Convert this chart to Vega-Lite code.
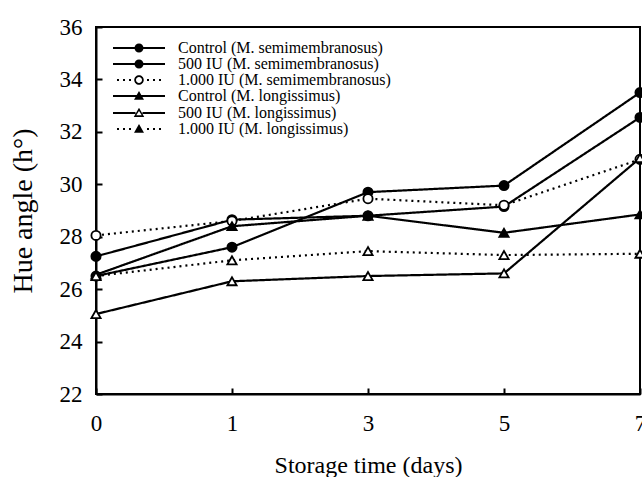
{
  "$schema": "https://vega.github.io/schema/vega-lite/v6.json",
  "width": 544,
  "height": 367,
  "autosize": {"type": "none"},
  "padding": {"left": 96, "top": 27, "right": 2, "bottom": 83},
  "background": "white",
  "config": {
    "font": "Liberation Serif",
    "view": {"stroke": "black", "strokeWidth": 2},
    "axis": {
      "domainColor": "black", "domainWidth": 2, "tickColor": "black", "tickWidth": 2, "tickSize": -6,
      "labelColor": "black", "labelFont": "Liberation Serif", "labelFontSize": 23,
      "titleFont": "Liberation Serif", "titleFontSize": 24, "titleFontWeight": "normal", "titleColor": "black",
      "grid": false
    }
  },
  "data": {
    "values": [
      {"series": "Control (M. semimembranosus)", "day": 0, "value": 26.5},
      {"series": "Control (M. semimembranosus)", "day": 1, "value": 27.6},
      {"series": "Control (M. semimembranosus)", "day": 3, "value": 29.7},
      {"series": "Control (M. semimembranosus)", "day": 5, "value": 29.95},
      {"series": "Control (M. semimembranosus)", "day": 7, "value": 33.5},
      {"series": "500 IU (M. semimembranosus)", "day": 0, "value": 27.25},
      {"series": "500 IU (M. semimembranosus)", "day": 1, "value": 28.65},
      {"series": "500 IU (M. semimembranosus)", "day": 3, "value": 28.8},
      {"series": "500 IU (M. semimembranosus)", "day": 5, "value": 29.15},
      {"series": "500 IU (M. semimembranosus)", "day": 7, "value": 32.55},
      {"series": "1.000 IU (M. semimembranosus)", "day": 0, "value": 28.05},
      {"series": "1.000 IU (M. semimembranosus)", "day": 1, "value": 28.6},
      {"series": "1.000 IU (M. semimembranosus)", "day": 3, "value": 29.45},
      {"series": "1.000 IU (M. semimembranosus)", "day": 5, "value": 29.2},
      {"series": "1.000 IU (M. semimembranosus)", "day": 7, "value": 30.95},
      {"series": "Control (M. longissimus)", "day": 0, "value": 26.55},
      {"series": "Control (M. longissimus)", "day": 1, "value": 28.4},
      {"series": "Control (M. longissimus)", "day": 3, "value": 28.8},
      {"series": "Control (M. longissimus)", "day": 5, "value": 28.15},
      {"series": "Control (M. longissimus)", "day": 7, "value": 28.85},
      {"series": "500 IU (M. longissimus)", "day": 0, "value": 25.05},
      {"series": "500 IU (M. longissimus)", "day": 1, "value": 26.3},
      {"series": "500 IU (M. longissimus)", "day": 3, "value": 26.5},
      {"series": "500 IU (M. longissimus)", "day": 5, "value": 26.6},
      {"series": "500 IU (M. longissimus)", "day": 7, "value": 31.0},
      {"series": "1.000 IU (M. longissimus)", "day": 0, "value": 26.5},
      {"series": "1.000 IU (M. longissimus)", "day": 1, "value": 27.1},
      {"series": "1.000 IU (M. longissimus)", "day": 3, "value": 27.45},
      {"series": "1.000 IU (M. longissimus)", "day": 5, "value": 27.3},
      {"series": "1.000 IU (M. longissimus)", "day": 7, "value": 27.35}
    ]
  },
  "encoding": {
    "x": {
      "field": "day", "type": "ordinal",
      "scale": {"type": "point", "padding": 0},
      "axis": {"labelAngle": 0, "title": "Storage time (days)", "labelPadding": 24, "titlePadding": 18}
    },
    "y": {
      "field": "value", "type": "quantitative",
      "scale": {"domain": [22, 36], "nice": false, "zero": false},
      "axis": {"values": [22, 24, 26, 28, 30, 32, 34, 36], "title": "Hue angle (h°)", "titleFontSize": 28, "labelPadding": 20, "titlePadding": 22}
    }
  },
  "resolve": {"scale": {"shape": "independent", "fill": "independent"}},
  "layer": [
    {
      "mark": {"type": "line", "strokeWidth": 2.2, "color": "black"},
      "encoding": {
        "detail": {"field": "series", "type": "nominal"},
        "strokeDash": {
          "field": "series", "type": "nominal",
          "scale": {
            "domain": ["Control (M. semimembranosus)", "500 IU (M. semimembranosus)", "1.000 IU (M. semimembranosus)", "Control (M. longissimus)", "500 IU (M. longissimus)", "1.000 IU (M. longissimus)"],
            "range": [[1, 0], [1, 0], [2, 4], [1, 0], [1, 0], [2, 4]]
          },
          "legend": null
        }
      }
    },
    {
      "transform": [{"filter": {"field": "series", "oneOf": ["Control (M. semimembranosus)", "500 IU (M. semimembranosus)"]}}],
      "mark": {"type": "point", "shape": "circle", "filled": true, "size": 85, "fill": "black", "stroke": "black", "strokeWidth": 1.8, "opacity": 1}
    },
    {
      "transform": [{"filter": {"field": "series", "oneOf": ["1.000 IU (M. semimembranosus)"]}}],
      "mark": {"type": "point", "shape": "circle", "filled": true, "size": 85, "fill": "white", "stroke": "black", "strokeWidth": 1.8, "opacity": 1}
    },
    {
      "transform": [{"filter": {"field": "series", "oneOf": ["Control (M. longissimus)"]}}],
      "mark": {"type": "point", "shape": "triangle-up", "filled": true, "size": 85, "fill": "black", "stroke": "black", "strokeWidth": 1.8, "opacity": 1}
    },
    {
      "transform": [{"filter": {"field": "series", "oneOf": ["500 IU (M. longissimus)", "1.000 IU (M. longissimus)"]}}],
      "mark": {"type": "point", "shape": "triangle-up", "filled": true, "size": 85, "fill": "white", "stroke": "black", "strokeWidth": 1.8, "opacity": 1}
    },
    {
      "mark": {"type": "point", "filled": true, "size": 100, "color": "black", "opacity": 0},
      "encoding": {
        "shape": {
          "field": "series", "type": "nominal",
          "scale": {
            "domain": ["Control (M. semimembranosus)", "500 IU (M. semimembranosus)", "1.000 IU (M. semimembranosus)", "Control (M. longissimus)", "500 IU (M. longissimus)", "1.000 IU (M. longissimus)"],
            "range": [
              "M-10.6,-0.22H-0.2V0.22H-10.6ZM-4.5,0A0.9,0.9 0 1,1 -6.3,0A0.9,0.9 0 1,1 -4.5,0Z",
              "M-10.6,-0.22H-0.2V0.22H-10.6ZM-4.5,0A0.9,0.9 0 1,1 -6.3,0A0.9,0.9 0 1,1 -4.5,0Z",
              "M-9.8,-0.2H-9.4V0.2H-9.8ZM-8.6,-0.2H-8.2V0.2H-8.6ZM-7.4,-0.2H-7V0.2H-7.4ZM-3.8,-0.2H-3.4V0.2H-3.8ZM-2.6,-0.2H-2.2V0.2H-2.6ZM-1.4,-0.2H-1V0.2H-1.4ZM-4.45,0A0.95,0.95 0 1,1 -6.35,0A0.95,0.95 0 1,1 -4.45,0ZM-4.8,0A0.6,0.6 0 1,0 -6,0A0.6,0.6 0 1,0 -4.8,0Z",
              "M-10.6,-0.22H-0.2V0.22H-10.6ZM-5.4,-1L-4.4,0.75L-6.4,0.75Z",
              "M-10.6,-0.22H-6.1V0.22H-10.6ZM-4.7,-0.22H-0.2V0.22H-4.7ZM-5.4,-1.05L-4.35,0.78L-6.45,0.78ZM-5.4,-0.4L-5.95,0.45L-4.85,0.45Z",
              "M-9.8,-0.2H-9.4V0.2H-9.8ZM-8.6,-0.2H-8.2V0.2H-8.6ZM-7.4,-0.2H-7V0.2H-7.4ZM-3.8,-0.2H-3.4V0.2H-3.8ZM-2.6,-0.2H-2.2V0.2H-2.6ZM-1.4,-0.2H-1V0.2H-1.4ZM-5.4,-1L-4.4,0.75L-6.4,0.75Z"
            ]
          },
          "legend": {
            "orient": "none", "legendX": 62, "legendY": 13, "title": null,
            "symbolSize": 100, "labelFontSize": 16, "labelFont": "Liberation Serif", "labelColor": "black",
            "labelOffset": 4, "labelLimit": 0, "rowPadding": 0, "padding": 0,
            "symbolFillColor": "black", "symbolOpacity": 1
          }
        }
      }
    }
  ]
}
